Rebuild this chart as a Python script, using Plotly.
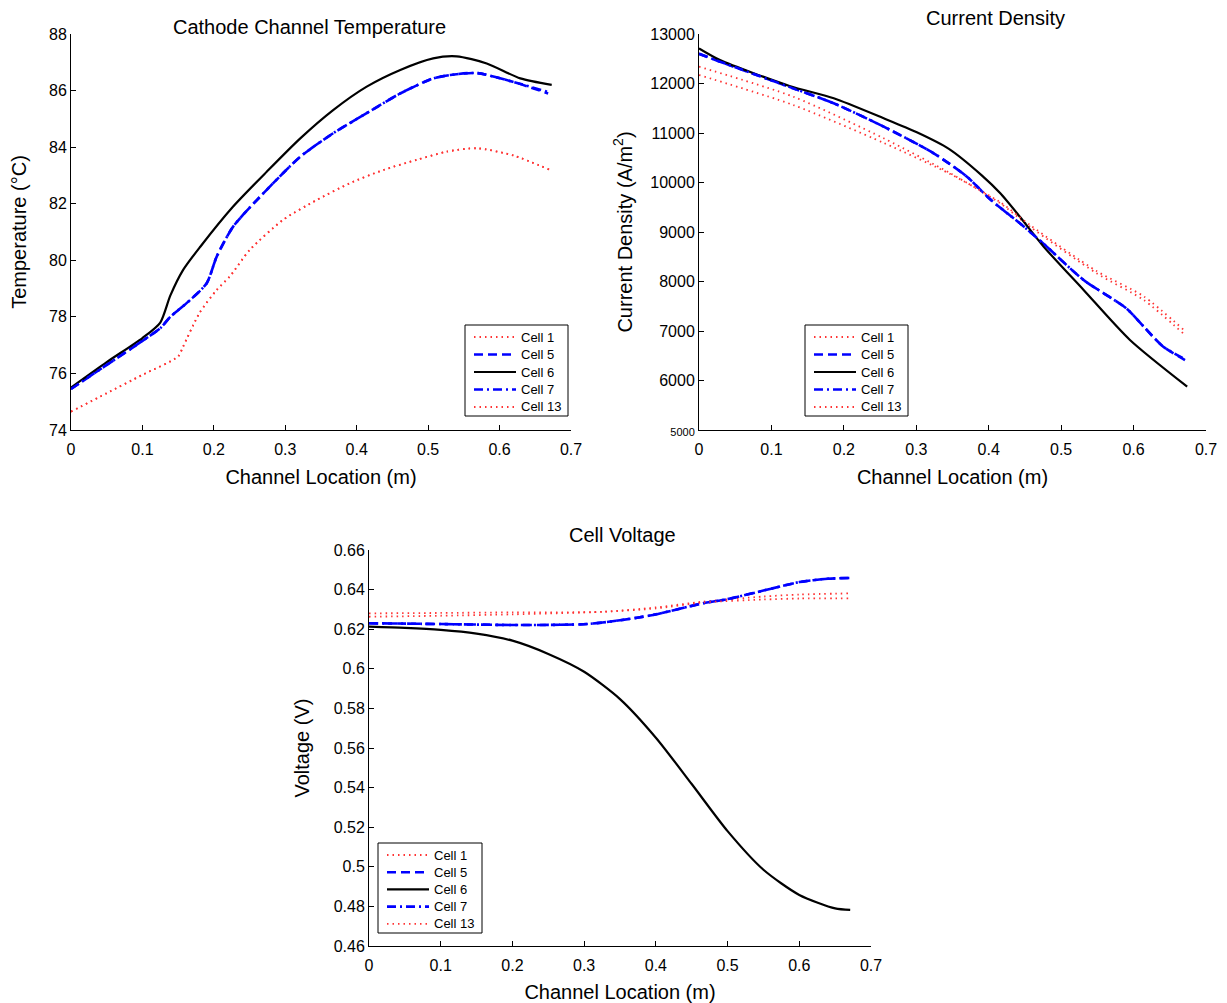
import plotly.graph_objects as go

# ---------------- Cathode channel temperature (deg C) ----------------
temp_x_c1 = [0, 0.05, 0.1, 0.15, 0.157, 0.18, 0.204, 0.223, 0.25, 0.297, 0.344, 0.39, 0.437, 0.484, 0.526, 0.568, 0.62, 0.67]
temp_c1 = [74.65, 75.3, 75.95, 76.6, 76.95, 78.14, 78.95, 79.45, 80.36, 81.43, 82.13, 82.72, 83.19, 83.55, 83.84, 83.96, 83.7, 83.2]
temp_c13 = [74.65, 75.3, 75.95, 76.6, 76.95, 78.14, 78.95, 79.45, 80.36, 81.43, 82.13, 82.72, 83.19, 83.55, 83.84, 83.96, 83.7, 83.2]

temp_x_c5 = [0, 0.05, 0.1, 0.125, 0.139, 0.167, 0.19, 0.204, 0.227, 0.274, 0.321, 0.367, 0.414, 0.461, 0.507, 0.531, 0.568, 0.62, 0.668]
temp_c5 = [75.45, 76.3, 77.15, 77.6, 78.0, 78.6, 79.19, 80.13, 81.19, 82.49, 83.66, 84.49, 85.2, 85.9, 86.43, 86.55, 86.62, 86.3, 85.9]
temp_c7 = [75.45, 76.3, 77.15, 77.6, 78.0, 78.6, 79.19, 80.13, 81.19, 82.49, 83.66, 84.49, 85.2, 85.9, 86.43, 86.55, 86.62, 86.3, 85.95]

temp_x_c6 = [0, 0.05, 0.1, 0.125, 0.139, 0.157, 0.181, 0.227, 0.274, 0.321, 0.367, 0.414, 0.461, 0.507, 0.54, 0.582, 0.629, 0.673]
temp_c6 = [75.5, 76.4, 77.25, 77.8, 78.75, 79.66, 80.48, 81.9, 83.13, 84.31, 85.31, 86.14, 86.73, 87.14, 87.21, 86.96, 86.43, 86.2]

# ---------------- Current density (A/m^2) ----------------
cd_x_c1 = [0, 0.13, 0.255, 0.347, 0.416, 0.457, 0.549, 0.614, 0.671]
cd_c1 = [12340, 11734, 10893, 10186, 9580, 9107, 8165, 7626, 6919]
cd_x_c13 = [0, 0.13, 0.255, 0.347, 0.416, 0.457, 0.549, 0.614, 0.671]
cd_c13 = [12172, 11566, 10800, 10170, 9600, 9140, 8210, 7700, 7000]

cd_x_c5 = [0, 0.029, 0.13, 0.186, 0.255, 0.324, 0.37, 0.402, 0.443, 0.476, 0.531, 0.59, 0.614, 0.641, 0.671]
cd_c5 = [12600, 12441, 11902, 11600, 11128, 10590, 10117, 9660, 9175, 8760, 8030, 7458, 7087, 6683, 6414]
cd_c7 = [12600, 12441, 11902, 11600, 11128, 10590, 10117, 9660, 9175, 8760, 8030, 7458, 7087, 6683, 6430]

cd_x_c6 = [0, 0.029, 0.125, 0.186, 0.255, 0.3, 0.345, 0.39, 0.416, 0.443, 0.476, 0.531, 0.595, 0.674]
cd_c6 = [12710, 12475, 11950, 11701, 11297, 11020, 10680, 10150, 9782, 9309, 8703, 7828, 6818, 5875]

# ---------------- Cell voltage (V) ----------------
v_x_red = [0, 0.1, 0.2, 0.326, 0.4, 0.466, 0.55, 0.6, 0.671]
v_c1 = [0.628, 0.6282, 0.6285, 0.6288, 0.631, 0.6339, 0.6365, 0.6375, 0.6381]
v_c13 = [0.6263, 0.6268, 0.6275, 0.6288, 0.6305, 0.6335, 0.635, 0.6355, 0.6356]

v_x_blue = [0, 0.1, 0.21, 0.304, 0.35, 0.396, 0.466, 0.5, 0.55, 0.6, 0.64, 0.671]
v_c5 = [0.623, 0.6226, 0.6221, 0.6226, 0.6245, 0.6272, 0.6331, 0.6352, 0.6395, 0.6438, 0.6455, 0.6459]
v_c7 = [0.623, 0.6226, 0.6221, 0.6226, 0.6245, 0.6272, 0.6331, 0.6352, 0.6395, 0.6438, 0.6455, 0.6459]

v_x_c6 = [0, 0.05, 0.1, 0.15, 0.2, 0.25, 0.3, 0.35, 0.4, 0.45, 0.5, 0.55, 0.6, 0.65, 0.671]
v_c6 = [0.6213, 0.6207, 0.6197, 0.6178, 0.6142, 0.6075, 0.5985, 0.5847, 0.5652, 0.5418, 0.518, 0.4985, 0.4858, 0.479, 0.4782]

cell_names = ["Cell 1", "Cell 5", "Cell 6", "Cell 7", "Cell 13"]
x_ticks = [0, 0.1, 0.2, 0.3, 0.4, 0.5, 0.6, 0.7]
x_labels = ["0", "0.1", "0.2", "0.3", "0.4", "0.5", "0.6", "0.7"]
cd_ticks = [5000, 6000, 7000, 8000, 9000, 10000, 11000, 12000, 13000]
cd_labels = ['<span style="font-size:11px">5000</span>', "6000", "7000", "8000",
             "9000", "10000", "11000", "12000", "13000"]

FONT = "Liberation Sans, Arial, Helvetica, sans-serif"
RED = "#ff3333"
BLUE = "#0000ff"

styles = {
    "Cell 1": dict(color=RED, dash="1.5px,4px", width=1.8),
    "Cell 5": dict(color=BLUE, dash="9px,5px", width=2.6),
    "Cell 6": dict(color="black", dash="solid", width=2.2),
    "Cell 7": dict(color=BLUE, dash="9px,4px,2px,4px", width=2.6),
    "Cell 13": dict(color=RED, dash="1.5px,4px", width=1.8),
}

W, H = 1227, 1003


def px_x(p):
    return p / W


def px_y(p):
    return 1 - p / H


fig = go.Figure()
shapes = []
annotations = []


def add_set(series, xa, ya):
    for name, xs, ys in series:
        fig.add_trace(go.Scatter(
            x=xs, y=ys, mode="lines", name=name,
            line=dict(styles[name], shape="spline", smoothing=0.7),
            xaxis=xa, yaxis=ya, showlegend=False,
        ))


def add_legend(box_left, box_top, box_right, box_bottom, first_row, row_step):
    """Boxed key with a short line sample and a label per cell (pixel placement)."""
    shapes.append(dict(type="rect", xref="paper", yref="paper",
                       x0=px_x(box_left), x1=px_x(box_right),
                       y0=px_y(box_bottom), y1=px_y(box_top),
                       line=dict(color="black", width=1), fillcolor="white", layer="above"))
    for i, name in enumerate(cell_names):
        yy = first_row + i * row_step
        st = styles[name]
        shapes.append(dict(type="line", xref="paper", yref="paper",
                           x0=px_x(box_left + 9), x1=px_x(box_left + 51),
                           y0=px_y(yy), y1=px_y(yy), layer="above",
                           line=dict(color=st["color"], dash=st["dash"], width=st["width"])))
        annotations.append(dict(text=name, xref="paper", yref="paper",
                                x=px_x(box_left + 54), y=px_y(yy),
                                xanchor="left", yanchor="middle", showarrow=False,
                                font=dict(family=FONT, size=13, color="black")))


add_set([
    ("Cell 1", temp_x_c1, temp_c1),
    ("Cell 5", temp_x_c5, temp_c5),
    ("Cell 6", temp_x_c6, temp_c6),
    ("Cell 7", temp_x_c5, temp_c7),
    ("Cell 13", temp_x_c1, temp_c13),
], "x", "y")

add_set([
    ("Cell 1", cd_x_c1, cd_c1),
    ("Cell 5", cd_x_c5, cd_c5),
    ("Cell 6", cd_x_c6, cd_c6),
    ("Cell 7", cd_x_c5, cd_c7),
    ("Cell 13", cd_x_c13, cd_c13),
], "x2", "y2")

add_set([
    ("Cell 1", v_x_red, v_c1),
    ("Cell 5", v_x_blue, v_c5),
    ("Cell 6", v_x_c6, v_c6),
    ("Cell 7", v_x_blue, v_c7),
    ("Cell 13", v_x_red, v_c13),
], "x3", "y3")

add_legend(465, 325, 568, 416, 337, 17.5)
add_legend(805, 325, 908, 416, 337, 17.5)
add_legend(378, 843, 482, 933, 855, 17.2)

for text, cx, cy in [("Cathode Channel Temperature", 309, 27),
                     ("Current Density", 995, 18),
                     ("Cell Voltage", 623, 535)]:
    annotations.append(dict(text=text, x=px_x(cx), y=px_y(cy), xref="paper", yref="paper",
                            showarrow=False, xanchor="center", yanchor="middle",
                            font=dict(family=FONT, size=20, color="black")))

axis_common = dict(
    showline=True, linecolor="black", linewidth=1,
    ticks="inside", ticklen=5, tickcolor="black", tickwidth=1,
    showgrid=False, zeroline=False, mirror=False, automargin=False,
    tickfont=dict(family=FONT, size=16, color="black"),
)
xaxis_common = dict(axis_common, range=[0, 0.7], tickvals=x_ticks, ticktext=x_labels,
                    ticklabelstandoff=5,
                    title=dict(text="Channel Location (m)", font=dict(family=FONT, size=20, color="black"),
                               standoff=12))
title_font = dict(family=FONT, size=20, color="black")

fig.update_layout(
    template="none",
    width=W, height=H, autosize=False,
    margin=dict(l=0, r=0, t=0, b=0, pad=0),
    paper_bgcolor="white", plot_bgcolor="white",
    font=dict(family=FONT, color="black"),
    showlegend=False,
    xaxis=dict(xaxis_common, domain=[px_x(71), px_x(571)], anchor="y"),
    yaxis=dict(axis_common, domain=[px_y(430), px_y(34)], anchor="x",
               range=[74, 88], dtick=2, tick0=74,
               title=dict(text="Temperature (°C)", font=title_font, standoff=17)),
    xaxis2=dict(xaxis_common, domain=[px_x(699), px_x(1206)], anchor="y2"),
    yaxis2=dict(axis_common, domain=[px_y(430), px_y(34)], anchor="x2",
                range=[5000, 13000], tickvals=cd_ticks, ticktext=cd_labels,
                title=dict(text="Current Density (A/m<sup>2</sup>)", font=title_font, standoff=12)),
    xaxis3=dict(xaxis_common, domain=[px_x(369), px_x(871)], anchor="y3"),
    yaxis3=dict(axis_common, domain=[px_y(946), px_y(550)], anchor="x3",
                range=[0.46, 0.66], dtick=0.02, tick0=0.46,
                title=dict(text="Voltage (V)", font=title_font, standoff=18)),
    shapes=shapes,
    annotations=annotations,
)

fig.write_html("out.html")
